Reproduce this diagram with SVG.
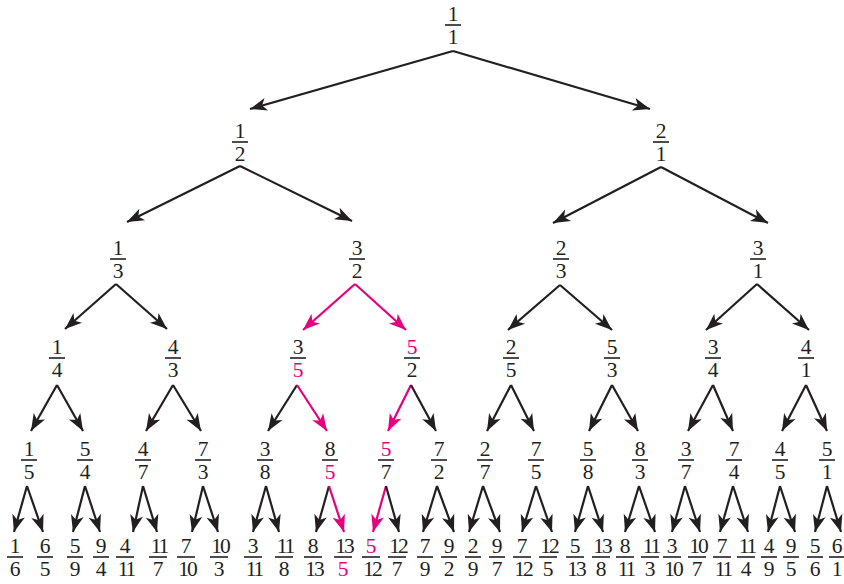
<svg xmlns="http://www.w3.org/2000/svg" width="844" height="584" viewBox="0 0 844 584">
<style>
text{font-family:"Liberation Serif","DejaVu Serif",serif;font-size:21.5px;fill:#231f20;text-anchor:middle}
text.p{fill:#e5007d}
text.w{letter-spacing:-2px}
.b{stroke:#231f20;stroke-width:1.6}
.e{stroke:#231f20;stroke-width:2.2;fill:none;marker-end:url(#ah)}
.ep{stroke:#e5007d;stroke-width:2.2;fill:none;marker-end:url(#ahp)}
</style>
<defs>
<marker id="ah" markerUnits="userSpaceOnUse" markerWidth="19" markerHeight="15" viewBox="-18 -7.5 19 15" refX="0" refY="0" orient="auto"><path d="M0,0 L-17,-6.5 L-12.5,0 L-17,6.5 Z" fill="#231f20"/></marker>
<marker id="ahp" markerUnits="userSpaceOnUse" markerWidth="19" markerHeight="15" viewBox="-18 -7.5 19 15" refX="0" refY="0" orient="auto"><path d="M0,0 L-17,-6.5 L-12.5,0 L-17,6.5 Z" fill="#e5007d"/></marker>
</defs>
<g id="connectors">
<line class="e" x1="453" y1="51" x2="250" y2="109"/>
<line class="e" x1="453" y1="51" x2="650" y2="109"/>
<line class="e" x1="240" y1="166" x2="127" y2="222"/>
<line class="e" x1="240" y1="166" x2="352" y2="221"/>
<line class="e" x1="661" y1="167" x2="553" y2="223"/>
<line class="e" x1="661" y1="167" x2="768" y2="223"/>
<line class="e" x1="116" y1="284" x2="65" y2="329"/>
<line class="e" x1="116" y1="284" x2="167" y2="329"/>
<line class="ep" x1="355" y1="284" x2="303" y2="330"/>
<line class="ep" x1="355" y1="284" x2="406" y2="330"/>
<line class="e" x1="560" y1="285" x2="508" y2="330"/>
<line class="e" x1="560" y1="285" x2="612" y2="330"/>
<line class="e" x1="757" y1="284" x2="706" y2="330"/>
<line class="e" x1="757" y1="284" x2="809" y2="330"/>
<line class="e" x1="57" y1="385" x2="31" y2="431"/>
<line class="e" x1="57" y1="385" x2="83" y2="431"/>
<line class="e" x1="173" y1="385" x2="146" y2="431"/>
<line class="e" x1="173" y1="385" x2="201" y2="431"/>
<line class="e" x1="297" y1="385" x2="268" y2="431"/>
<line class="ep" x1="297" y1="385" x2="327" y2="431"/>
<line class="ep" x1="411" y1="385" x2="388" y2="431"/>
<line class="e" x1="411" y1="385" x2="436" y2="431"/>
<line class="e" x1="511" y1="385" x2="487" y2="431"/>
<line class="e" x1="511" y1="385" x2="534" y2="431"/>
<line class="e" x1="612" y1="385" x2="589" y2="431"/>
<line class="e" x1="612" y1="385" x2="638" y2="431"/>
<line class="e" x1="713" y1="385" x2="688" y2="431"/>
<line class="e" x1="713" y1="385" x2="733" y2="431"/>
<line class="e" x1="806" y1="385" x2="782" y2="431"/>
<line class="e" x1="806" y1="385" x2="827" y2="431"/>
<line class="e" x1="27" y1="486" x2="14" y2="532"/>
<line class="e" x1="27" y1="486" x2="43" y2="532"/>
<line class="e" x1="85" y1="486" x2="73" y2="532"/>
<line class="e" x1="85" y1="486" x2="100" y2="532"/>
<line class="e" x1="143" y1="486" x2="133" y2="532"/>
<line class="e" x1="143" y1="486" x2="157" y2="532"/>
<line class="e" x1="203" y1="486" x2="192" y2="532"/>
<line class="e" x1="203" y1="486" x2="218" y2="532"/>
<line class="e" x1="266" y1="486" x2="253" y2="532"/>
<line class="e" x1="266" y1="486" x2="279" y2="532"/>
<line class="e" x1="329" y1="486" x2="316" y2="532"/>
<line class="ep" x1="329" y1="486" x2="344" y2="532"/>
<line class="ep" x1="386" y1="486" x2="373" y2="532"/>
<line class="e" x1="386" y1="486" x2="399" y2="532"/>
<line class="e" x1="437" y1="486" x2="423" y2="532"/>
<line class="e" x1="437" y1="486" x2="454" y2="532"/>
<line class="e" x1="483" y1="486" x2="469" y2="532"/>
<line class="e" x1="483" y1="486" x2="500" y2="532"/>
<line class="e" x1="536" y1="486" x2="522" y2="532"/>
<line class="e" x1="536" y1="486" x2="552" y2="532"/>
<line class="e" x1="588" y1="486" x2="575" y2="532"/>
<line class="e" x1="588" y1="486" x2="603" y2="532"/>
<line class="e" x1="639" y1="486" x2="625" y2="532"/>
<line class="e" x1="639" y1="486" x2="655" y2="532"/>
<line class="e" x1="685" y1="486" x2="672" y2="532"/>
<line class="e" x1="685" y1="486" x2="700" y2="532"/>
<line class="e" x1="733" y1="486" x2="720" y2="532"/>
<line class="e" x1="733" y1="486" x2="748" y2="532"/>
<line class="e" x1="780" y1="486" x2="768" y2="532"/>
<line class="e" x1="780" y1="486" x2="795" y2="532"/>
<line class="e" x1="827" y1="486" x2="815" y2="532"/>
<line class="e" x1="827" y1="486" x2="841" y2="532"/>
</g>
<g id="n1_1"><line class="b" x1="445" y1="25" x2="461" y2="25"/><text x="453" y="21">1</text><text x="453" y="44">1</text></g>
<g id="n1_2"><line class="b" x1="232" y1="142" x2="248" y2="142"/><text x="240" y="138">1</text><text x="240" y="161">2</text></g>
<g id="n2_1"><line class="b" x1="653" y1="142" x2="669" y2="142"/><text x="661" y="138">2</text><text x="661" y="161">1</text></g>
<g id="n1_3"><line class="b" x1="110" y1="259" x2="126" y2="259"/><text x="118" y="255">1</text><text x="118" y="278">3</text></g>
<g id="n3_2"><line class="b" x1="349" y1="259" x2="365" y2="259"/><text x="357" y="255">3</text><text x="357" y="278">2</text></g>
<g id="n2_3"><line class="b" x1="553" y1="259" x2="569" y2="259"/><text x="561" y="255">2</text><text x="561" y="278">3</text></g>
<g id="n3_1"><line class="b" x1="750" y1="259" x2="766" y2="259"/><text x="758" y="255">3</text><text x="758" y="278">1</text></g>
<g id="n1_4"><line class="b" x1="49" y1="358" x2="65" y2="358"/><text x="57" y="354">1</text><text x="57" y="377">4</text></g>
<g id="n4_3"><line class="b" x1="165" y1="358" x2="181" y2="358"/><text x="173" y="354">4</text><text x="173" y="377">3</text></g>
<g id="n3_5"><line class="b" x1="290" y1="358" x2="306" y2="358"/><text x="298" y="354">3</text><text class="p" x="298" y="377">5</text></g>
<g id="n5_2"><line class="b" x1="404" y1="358" x2="420" y2="358"/><text class="p" x="412" y="354">5</text><text x="412" y="377">2</text></g>
<g id="n2_5"><line class="b" x1="503" y1="358" x2="519" y2="358"/><text x="511" y="354">2</text><text x="511" y="377">5</text></g>
<g id="n5_3"><line class="b" x1="604" y1="358" x2="620" y2="358"/><text x="612" y="354">5</text><text x="612" y="377">3</text></g>
<g id="n3_4"><line class="b" x1="705" y1="358" x2="721" y2="358"/><text x="713" y="354">3</text><text x="713" y="377">4</text></g>
<g id="n4_1"><line class="b" x1="798" y1="358" x2="814" y2="358"/><text x="806" y="354">4</text><text x="806" y="377">1</text></g>
<g id="n1_5"><line class="b" x1="21" y1="460" x2="37" y2="460"/><text x="29" y="456">1</text><text x="29" y="479">5</text></g>
<g id="n5_4"><line class="b" x1="77" y1="460" x2="93" y2="460"/><text x="85" y="456">5</text><text x="85" y="479">4</text></g>
<g id="n4_7"><line class="b" x1="135" y1="460" x2="151" y2="460"/><text x="143" y="456">4</text><text x="143" y="479">7</text></g>
<g id="n7_3"><line class="b" x1="195" y1="460" x2="211" y2="460"/><text x="203" y="456">7</text><text x="203" y="479">3</text></g>
<g id="n3_8"><line class="b" x1="257" y1="460" x2="273" y2="460"/><text x="265" y="456">3</text><text x="265" y="479">8</text></g>
<g id="n8_5"><line class="b" x1="322" y1="460" x2="338" y2="460"/><text x="330" y="456">8</text><text class="p" x="330" y="479">5</text></g>
<g id="n5_7"><line class="b" x1="378" y1="460" x2="394" y2="460"/><text class="p" x="386" y="456">5</text><text x="386" y="479">7</text></g>
<g id="n7_2"><line class="b" x1="431" y1="460" x2="447" y2="460"/><text x="439" y="456">7</text><text x="439" y="479">2</text></g>
<g id="n2_7"><line class="b" x1="477" y1="460" x2="493" y2="460"/><text x="485" y="456">2</text><text x="485" y="479">7</text></g>
<g id="n7_5"><line class="b" x1="528" y1="460" x2="544" y2="460"/><text x="536" y="456">7</text><text x="536" y="479">5</text></g>
<g id="n5_8"><line class="b" x1="580" y1="460" x2="596" y2="460"/><text x="588" y="456">5</text><text x="588" y="479">8</text></g>
<g id="n8_3"><line class="b" x1="632" y1="460" x2="648" y2="460"/><text x="640" y="456">8</text><text x="640" y="479">3</text></g>
<g id="n3_7"><line class="b" x1="678" y1="460" x2="694" y2="460"/><text x="686" y="456">3</text><text x="686" y="479">7</text></g>
<g id="n7_4"><line class="b" x1="726" y1="460" x2="742" y2="460"/><text x="734" y="456">7</text><text x="734" y="479">4</text></g>
<g id="n4_5"><line class="b" x1="772" y1="460" x2="788" y2="460"/><text x="780" y="456">4</text><text x="780" y="479">5</text></g>
<g id="n5_1"><line class="b" x1="819" y1="460" x2="835" y2="460"/><text x="827" y="456">5</text><text x="827" y="479">1</text></g>
<g id="n1_6"><line class="b" x1="7" y1="557" x2="23" y2="557"/><text x="15" y="553">1</text><text x="15" y="576">6</text></g>
<g id="n6_5"><line class="b" x1="37" y1="557" x2="53" y2="557"/><text x="45" y="553">6</text><text x="45" y="576">5</text></g>
<g id="n5_9"><line class="b" x1="67" y1="557" x2="83" y2="557"/><text x="75" y="553">5</text><text x="75" y="576">9</text></g>
<g id="n9_4"><line class="b" x1="93" y1="557" x2="109" y2="557"/><text x="101" y="553">9</text><text x="101" y="576">4</text></g>
<g id="n4_11"><line class="b" x1="116" y1="557" x2="134" y2="557"/><text x="125" y="553">4</text><text class="w" x="126" y="576">11</text></g>
<g id="n11_7"><line class="b" x1="149" y1="557" x2="167" y2="557"/><text class="w" x="159" y="553">11</text><text x="158" y="576">7</text></g>
<g id="n7_10"><line class="b" x1="177" y1="557" x2="195" y2="557"/><text x="186" y="553">7</text><text class="w" x="187" y="576">10</text></g>
<g id="n10_3"><line class="b" x1="210" y1="557" x2="228" y2="557"/><text class="w" x="220" y="553">10</text><text x="219" y="576">3</text></g>
<g id="n3_11"><line class="b" x1="244" y1="557" x2="262" y2="557"/><text x="253" y="553">3</text><text class="w" x="254" y="576">11</text></g>
<g id="n11_8"><line class="b" x1="275" y1="557" x2="293" y2="557"/><text class="w" x="285" y="553">11</text><text x="284" y="576">8</text></g>
<g id="n8_13"><line class="b" x1="304" y1="557" x2="322" y2="557"/><text x="313" y="553">8</text><text class="w" x="314" y="576">13</text></g>
<g id="n13_5"><line class="b" x1="334" y1="557" x2="352" y2="557"/><text class="w" x="344" y="553">13</text><text class="p" x="343" y="576">5</text></g>
<g id="n5_12"><line class="b" x1="362" y1="557" x2="380" y2="557"/><text class="p" x="371" y="553">5</text><text class="w" x="372" y="576">12</text></g>
<g id="n12_7"><line class="b" x1="388" y1="557" x2="406" y2="557"/><text class="w" x="398" y="553">12</text><text x="397" y="576">7</text></g>
<g id="n7_9"><line class="b" x1="417" y1="557" x2="433" y2="557"/><text x="425" y="553">7</text><text x="425" y="576">9</text></g>
<g id="n9_2"><line class="b" x1="441" y1="557" x2="457" y2="557"/><text x="449" y="553">9</text><text x="449" y="576">2</text></g>
<g id="n2_9"><line class="b" x1="465" y1="557" x2="481" y2="557"/><text x="473" y="553">2</text><text x="473" y="576">9</text></g>
<g id="n9_7"><line class="b" x1="489" y1="557" x2="505" y2="557"/><text x="497" y="553">9</text><text x="497" y="576">7</text></g>
<g id="n7_12"><line class="b" x1="513" y1="557" x2="531" y2="557"/><text x="522" y="553">7</text><text class="w" x="523" y="576">12</text></g>
<g id="n12_5"><line class="b" x1="539" y1="557" x2="557" y2="557"/><text class="w" x="549" y="553">12</text><text x="548" y="576">5</text></g>
<g id="n5_13"><line class="b" x1="566" y1="557" x2="584" y2="557"/><text x="575" y="553">5</text><text class="w" x="576" y="576">13</text></g>
<g id="n13_8"><line class="b" x1="592" y1="557" x2="610" y2="557"/><text class="w" x="602" y="553">13</text><text x="601" y="576">8</text></g>
<g id="n8_11"><line class="b" x1="616" y1="557" x2="634" y2="557"/><text x="625" y="553">8</text><text class="w" x="626" y="576">11</text></g>
<g id="n11_3"><line class="b" x1="641" y1="557" x2="659" y2="557"/><text class="w" x="651" y="553">11</text><text x="650" y="576">3</text></g>
<g id="n3_10"><line class="b" x1="663" y1="557" x2="681" y2="557"/><text x="672" y="553">3</text><text class="w" x="673" y="576">10</text></g>
<g id="n10_7"><line class="b" x1="688" y1="557" x2="706" y2="557"/><text class="w" x="698" y="553">10</text><text x="697" y="576">7</text></g>
<g id="n7_11"><line class="b" x1="713" y1="557" x2="731" y2="557"/><text x="722" y="553">7</text><text class="w" x="723" y="576">11</text></g>
<g id="n11_4"><line class="b" x1="737" y1="557" x2="755" y2="557"/><text class="w" x="747" y="553">11</text><text x="746" y="576">4</text></g>
<g id="n4_9"><line class="b" x1="761" y1="557" x2="777" y2="557"/><text x="769" y="553">4</text><text x="769" y="576">9</text></g>
<g id="n9_5"><line class="b" x1="783" y1="557" x2="799" y2="557"/><text x="791" y="553">9</text><text x="791" y="576">5</text></g>
<g id="n5_6"><line class="b" x1="807" y1="557" x2="823" y2="557"/><text x="815" y="553">5</text><text x="815" y="576">6</text></g>
<g id="n6_1"><line class="b" x1="829" y1="557" x2="845" y2="557"/><text x="837" y="553">6</text><text x="837" y="576">1</text></g>
</svg>
